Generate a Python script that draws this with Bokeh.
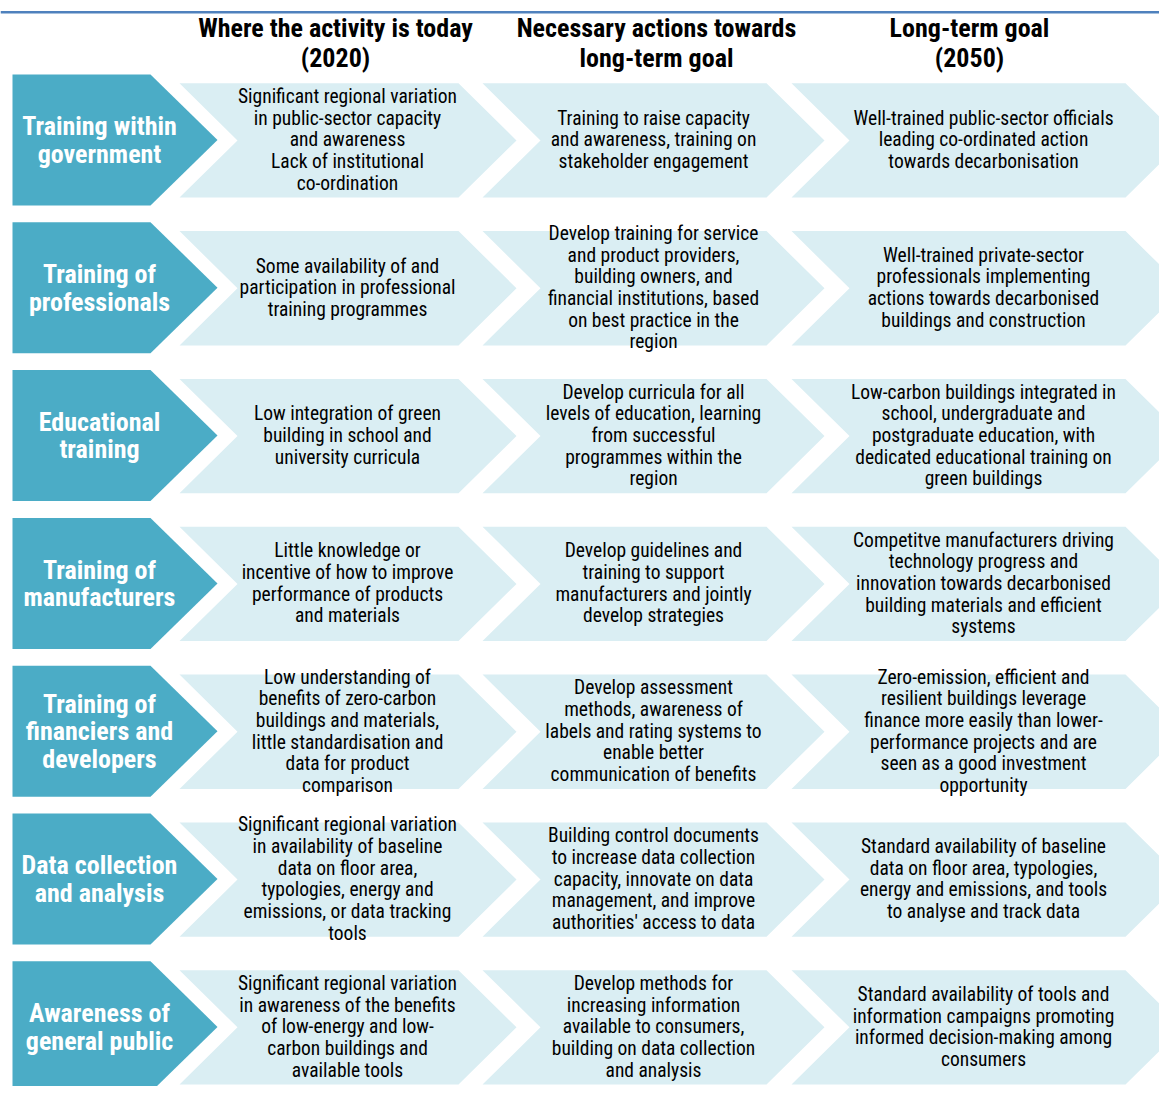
from bokeh.plotting import figure
from bokeh.models import Range1d, ColumnDataSource
from bokeh.embed import file_html
from bokeh.resources import INLINE
from bokeh.core.properties import value

# ---------------- content ----------------
headers = [
    ["Where the activity is today", "(2020)"],
    ["Necessary actions towards", "long-term goal"],
    ["Long-term goal", "(2050)"],
]

row_labels = [
    ["Training within", "government"],
    ["Training of", "professionals"],
    ["Educational", "training"],
    ["Training of", "manufacturers"],
    ["Training of", "financiers and", "developers"],
    ["Data collection", "and analysis"],
    ["Awareness of", "general public"],
]

today_2020 = [
    ["Significant regional variation", "in public-sector capacity", "and awareness", "Lack of institutional", "co-ordination"],
    ["Some availability of and", "participation in professional", "training programmes"],
    ["Low integration of green", "building in school and", "university curricula"],
    ["Little knowledge or", "incentive of how to improve", "performance of products", "and materials"],
    ["Low understanding of", "benefits of zero-carbon", "buildings and materials,", "little standardisation and", "data for product", "comparison"],
    ["Significant regional variation", "in availability of baseline", "data on floor area,", "typologies, energy and", "emissions, or data tracking", "tools"],
    ["Significant regional variation", "in awareness of the benefits", "of low-energy and low-", "carbon buildings and", "available tools"],
]

actions = [
    ["Training to raise capacity", "and awareness, training on", "stakeholder engagement"],
    ["Develop training for service", "and product providers,", "building owners, and", "financial institutions, based", "on best practice in the", "region"],
    ["Develop curricula for all", "levels of education, learning", "from successful", "programmes within the", "region"],
    ["Develop guidelines and", "training to support", "manufacturers and jointly", "develop strategies"],
    ["Develop assessment", "methods, awareness of", "labels and rating systems to", "enable better", "communication of benefits"],
    ["Building control documents", "to increase data collection", "capacity, innovate on data", "management, and improve", "authorities' access to data"],
    ["Develop methods for", "increasing information", "available to consumers,", "building on data collection", "and analysis"],
]

goal_2050 = [
    ["Well-trained public-sector officials", "leading co-ordinated action", "towards decarbonisation"],
    ["Well-trained private-sector", "professionals implementing", "actions towards decarbonised", "buildings and construction"],
    ["Low-carbon buildings integrated in", "school, undergraduate and", "postgraduate education, with", "dedicated educational training on", "green buildings"],
    ["Competitve manufacturers driving", "technology progress and", "innovation towards decarbonised", "building materials and efficient", "systems"],
    ["Zero-emission, efficient and", "resilient buildings leverage", "finance more easily than lower-", "performance projects and are", "seen as a good investment", "opportunity"],
    ["Standard availability of baseline", "data on floor area, typologies,", "energy and emissions, and tools", "to analyse and track data"],
    ["Standard availability of tools and", "information campaigns promoting", "informed decision-making among", "consumers"],
]

columns = [today_2020, actions, goal_2050]

# ---------------- layout (pixels of the 1175x1102 design) ----------------
FONT = "'Roboto Condensed', 'Arial Narrow', 'Liberation Sans Narrow', 'DejaVu Sans Condensed', Roboto, sans-serif"
DARK = "#4BACC6"
LIGHT = "#DAEEF3"
LINE = "#4F81BD"

ROW_PITCH = 150
ROW0_TOP = 75
DARK_H = 133
LIGHT_TOP_OFF = 9
LIGHT_H = 116
DARK_LEFT, DARK_CORNER, DARK_TIP = 12, 150, 217
COL_LEFT = [179, 482, 791]
COL_TIP = [516, 824, 1183]
COL_TEXT_X = [347, 653, 983]
HEAD_X = [335, 656, 969]
DEPTH = 58
BODY_LH = 22
LABEL_LH = 28
LABEL_X = 99

W, H = 1159, 1086

p = figure(width=W, height=H, x_range=Range1d(0, W), y_range=Range1d(1102, 0),
           output_backend="svg", toolbar_location=None, min_border=0,
           x_axis_location=None, y_axis_location=None)
p.grid.visible = False
p.outline_line_color = None
p.background_fill_color = "white"
p.border_fill_color = "white"

# top rule
p.segment(x0=[0], x1=[1175], y0=[12], y1=[12], line_color=LINE, line_width=2.5)

# chevrons
dxs, dys, lxs, lys = [], [], [], []
for i in range(len(row_labels)):
    t = ROW0_TOP + i * ROW_PITCH
    b = t + DARK_H
    m = (t + b) / 2
    dxs.append([DARK_LEFT, DARK_CORNER, DARK_TIP, DARK_CORNER, DARK_LEFT])
    dys.append([t, t, m, b, b])
    lt = t + LIGHT_TOP_OFF
    lb = lt + LIGHT_H
    lm = (lt + lb) / 2
    for L, R in zip(COL_LEFT, COL_TIP):
        lxs.append([L, R - DEPTH, R, R - DEPTH, L, L + DEPTH])
        lys.append([lt, lt, lm, lb, lb, lm])

p.patches(dxs, dys, fill_color=DARK, line_color=None)
p.patches(lxs, lys, fill_color=LIGHT, line_color=None)

# body text
bx, by, bt = [], [], []
for c, col in enumerate(columns):
    for i, lines in enumerate(col):
        m = ROW0_TOP + i * ROW_PITCH + DARK_H / 2
        n = len(lines)
        for k, s in enumerate(lines):
            bx.append(COL_TEXT_X[c])
            by.append(m + (k - (n - 1) / 2) * BODY_LH)
            bt.append(s)
p.text(x="x", y="y", text="t", source=ColumnDataSource(dict(x=bx, y=by, t=bt)),
       text_align="center", text_baseline="middle", text_color="#000000",
       text_font=value(FONT), text_font_size="19.5px")

# row labels
rx, ry, rt = [], [], []
for i, lines in enumerate(row_labels):
    m = ROW0_TOP + i * ROW_PITCH + DARK_H / 2
    n = len(lines)
    for k, s in enumerate(lines):
        rx.append(LABEL_X)
        ry.append(m + (k - (n - 1) / 2) * LABEL_LH)
        rt.append(s)
p.text(x="x", y="y", text="t", source=ColumnDataSource(dict(x=rx, y=ry, t=rt)),
       text_align="center", text_baseline="middle", text_color="#FFFFFF",
       text_font=value(FONT), text_font_size="26px", text_font_style="bold")

# headers
hx, hy, ht = [], [], []
for c, lines in enumerate(headers):
    for k, s in enumerate(lines):
        hx.append(HEAD_X[c])
        hy.append(28 + k * 30)
        ht.append(s)
p.text(x="x", y="y", text="t", source=ColumnDataSource(dict(x=hx, y=hy, t=ht)),
       text_align="center", text_baseline="middle", text_color="#000000",
       text_font=value(FONT), text_font_size="26px", text_font_style="bold")

open("out.html", "w").write(file_html(p, INLINE))
